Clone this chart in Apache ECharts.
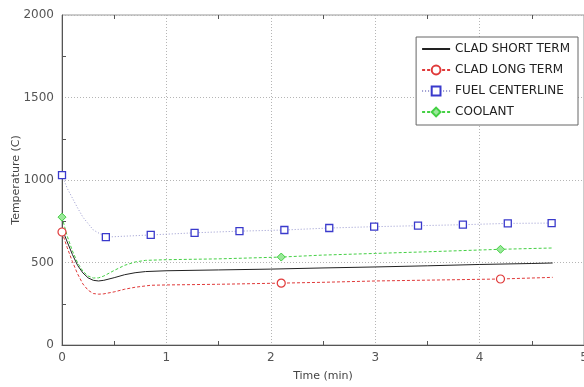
<!DOCTYPE html>
<html>
<head>
<meta charset="utf-8">
<script src="https://cdn.jsdelivr.net/npm/echarts@6/dist/echarts.min.js"></script>
<style>
  html, body { margin: 0; padding: 0; background: #fff; }
  #chart { width: 584px; height: 387px; }
</style>
</head>
<body>
<div id="chart"></div>
<script>
// Transient temperatures (°C) versus time (min)
const xTicks = [0, 1, 2, 3, 4, 5];
const yTicks = [0, 500, 1000, 1500, 2000];

const cladShortTime = [0, 0.05, 0.1, 0.15, 0.2, 0.25, 0.3, 0.35, 0.4, 0.5, 0.6, 0.7, 0.8, 1.0, 1.5, 2.0, 2.5, 3.0, 3.5, 4.0, 4.5, 4.7];
const cladShortTemp = [705, 625, 548, 482, 437, 407, 392, 388, 392, 408, 426, 438, 445, 450, 455, 460, 467, 473, 480, 488, 494, 497];

const cladLongTime = [0, 0.05, 0.1, 0.15, 0.2, 0.25, 0.3, 0.35, 0.4, 0.5, 0.6, 0.7, 0.85, 1.0, 1.5, 2.1, 2.5, 3.0, 3.5, 4.2, 4.7];
const cladLongTemp = [685, 590, 505, 430, 370, 332, 312, 308, 310, 322, 338, 350, 362, 364, 368, 375, 380, 388, 393, 400, 410];
const cladLongMarks = [0, 15, 19];

const fuelTime = [0, 0.05, 0.1, 0.15, 0.2, 0.3, 0.42, 0.85, 1.27, 1.7, 2.13, 2.56, 2.99, 3.41, 3.84, 4.27, 4.69];
const fuelTemp = [1030, 950, 890, 830, 775, 697, 654, 667, 680, 690, 697, 709, 717, 723, 729, 737, 739];
const fuelMarks = [0, 6, 7, 8, 9, 10, 11, 12, 13, 14, 15, 16];

const coolantTime = [0, 0.05, 0.1, 0.15, 0.2, 0.25, 0.3, 0.35, 0.4, 0.5, 0.6, 0.7, 0.8, 1.0, 1.5, 2.1, 2.5, 3.0, 3.5, 4.2, 4.7];
const coolantTemp = [775, 660, 570, 497, 447, 418, 406, 407, 418, 452, 483, 503, 513, 517, 522, 533, 545, 555, 565, 580, 588];
const coolantMarks = [0, 15, 19];

function build(times, temps, marks) {
  return times.map((t, i) => {
    const item = { value: [t, temps[i]] };
    if (!marks || marks.indexOf(i) < 0) item.symbol = 'none';
    return item;
  });
}

const FONT = 'DejaVu Sans';
const chart = echarts.init(document.getElementById('chart'));

const baseX = {
  type: 'value', min: xTicks[0], max: xTicks[xTicks.length - 1], interval: 1,
  axisLine: { show: true, lineStyle: { color: '#555', width: 1 } },
  axisTick: { show: false }
};

chart.setOption({
  animation: false,
  backgroundColor: '#fff',
  textStyle: { fontFamily: FONT },
  grid: {
    left: 62, right: 0, top: 15, bottom: 42,
    containLabel: false, outerBoundsMode: 'none',
    show: true, borderColor: '#999', borderWidth: 1
  },
  legend: {
    orient: 'vertical', right: 6, top: 37,
    padding: [6, 8, 7, 5], itemGap: 9, itemWidth: 28, itemHeight: 11,
    backgroundColor: '#fff', borderColor: '#666', borderWidth: 1,
    textStyle: { fontFamily: FONT, fontSize: 12, color: '#222' },
    data: [
      { name: 'CLAD SHORT TERM', itemStyle: { opacity: 0 } },
      'CLAD LONG TERM', 'FUEL CENTERLINE', 'COOLANT'
    ]
  },
  xAxis: [
    Object.assign({}, baseX, {
      position: 'bottom',
      name: 'Time (min)', nameLocation: 'middle', nameGap: 26, nameMoveOverlap: false,
      nameTextStyle: { fontFamily: FONT, fontSize: 11, color: '#444' },
      axisLabel: { fontFamily: FONT, fontSize: 12, color: '#555', margin: 7 },
      splitLine: { show: true, lineStyle: { color: '#b5b5b5', type: [1, 2] } },
      minorTick: { show: true, splitNumber: 2, length: -4, lineStyle: { color: '#555' } }
    }),
    Object.assign({}, baseX, {
      position: 'top', axisLabel: { show: false }, splitLine: { show: false },
      axisLine: { show: false },
      minorTick: { show: true, splitNumber: 2, length: -4, lineStyle: { color: '#555' } }
    })
  ],
  yAxis: {
    type: 'value', min: yTicks[0], max: yTicks[yTicks.length - 1], interval: 500,
    name: 'Temperature (C)', nameLocation: 'middle', nameGap: 40, nameMoveOverlap: false,
    nameTextStyle: { fontFamily: FONT, fontSize: 11, color: '#444' },
    axisLine: { show: true, lineStyle: { color: '#555', width: 1 } },
    axisTick: { show: false },
    minorTick: { show: true, splitNumber: 2, length: -4, lineStyle: { color: '#555' } },
    axisLabel: { fontFamily: FONT, fontSize: 12, color: '#555', margin: 8, formatter: v => String(v) },
    splitLine: { show: true, lineStyle: { color: '#b5b5b5', type: [1, 2] } }
  },
  series: [
    {
      name: 'CLAD SHORT TERM', type: 'line', symbol: 'none',
      lineStyle: { color: '#222', width: 1 }, itemStyle: { color: '#222' },
      data: build(cladShortTime, cladShortTemp, null)
    },
    {
      name: 'CLAD LONG TERM', type: 'line', symbol: 'circle', symbolSize: 8,
      lineStyle: { color: '#e03a3a', width: 1, type: [3, 2] },
      itemStyle: { color: '#fff', borderColor: '#e03a3a', borderWidth: 1.2 },
      data: build(cladLongTime, cladLongTemp, cladLongMarks)
    },
    {
      name: 'FUEL CENTERLINE', type: 'line', symbol: 'rect', symbolSize: 7,
      lineStyle: { color: '#9a9ad0', width: 1, type: [1, 2] },
      itemStyle: { color: '#fff', borderColor: '#3a3acc', borderWidth: 1.3 },
      data: build(fuelTime, fuelTemp, fuelMarks)
    },
    {
      name: 'COOLANT', type: 'line', symbol: 'diamond', symbolSize: 8,
      lineStyle: { color: '#44d044', width: 1, type: [3, 2] },
      itemStyle: { color: '#9be89b', borderColor: '#44d044', borderWidth: 1 },
      data: build(coolantTime, coolantTemp, coolantMarks)
    }
  ]
});
</script>
</body>
</html>
